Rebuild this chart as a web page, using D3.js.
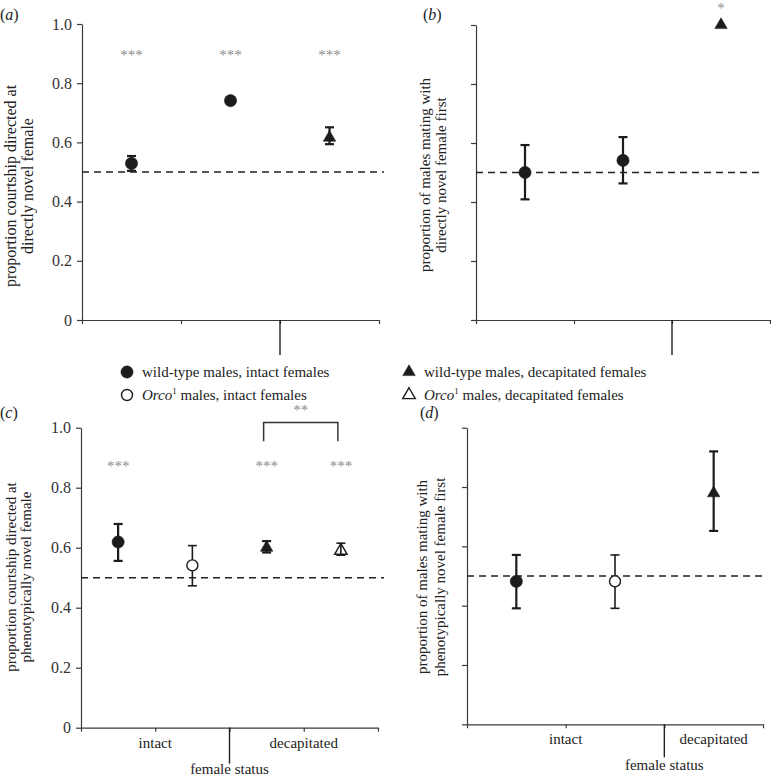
<!DOCTYPE html>
<html>
<head>
<meta charset="utf-8">
<script src="https://cdn.jsdelivr.net/npm/d3@7"></script>
<style>
  html, body { margin: 0; padding: 0; background: #fff; }
  svg { display: block; }
  svg text { font-family: "Liberation Serif", "Tinos", "Times New Roman", "DejaVu Serif", serif; }
</style>
</head>
<body>
<svg id="chart" width="771" height="778"></svg>
<script>
// ---------------- DATA ----------------
const yTickValues = [0, 0.2, 0.4, 0.6, 0.8, 1.0];
const yTickLabels = ["0", "0.2", "0.4", "0.6", "0.8", "1.0"];

// panel (a)
const treatmentsA = ["wt-intact-1", "wt-intact-2", "wt-decap"];
const meansA  = [0.529, 0.741, 0.616];
const lowA    = [0.504, 0.731, 0.594];
const highA   = [0.554, 0.752, 0.651];
const markersA = ["filledCircle", "filledCircle", "filledTriangle"];
const starsA  = ["***", "***", "***"];

// panel (b)
const treatmentsB = ["wt-intact-1", "wt-intact-2", "wt-decap"];
const meansB  = [0.50, 0.541, 1.0];
const lowB    = [0.409, 0.463, null];
const highB   = [0.593, 0.620, null];
const markersB = ["filledCircle", "filledCircle", "filledTriangle"];
const starsB  = ["", "", "*"];

// panel (c)
const treatmentsC = ["wt-intact", "orco-intact", "wt-decap", "orco-decap"];
const meansC  = [0.619, 0.541, 0.600, 0.590];
const lowC    = [0.556, 0.473, 0.584, 0.575];
const highC   = [0.679, 0.607, 0.622, 0.615];
const markersC = ["filledCircle", "openCircle", "filledTriangle", "openTriangle"];
const starsC  = ["***", "", "***", "***"];
const bracketC = { from: 2, to: 3, top: 1.017, bottom: 0.955, label: "**" };

// panel (d)
const treatmentsD = ["wt-intact", "orco-intact", "wt-decap"];
const meansD  = [0.482, 0.482, 0.779];
const lowD    = [0.391, 0.391, 0.652];
const highD   = [0.571, 0.571, 0.920];
const markersD = ["filledCircle", "openCircle", "filledTriangle"];

// x-axis group labels (c, d)
const groupLabels = ["intact", "decapitated"];
const xAxisTitle = "female status";

// legend
const legendMarkers = ["filledCircle", "openCircle", "filledTriangle", "openTriangle"];
const legendGenotype = ["wild-type", "Orco", "wild-type", "Orco"];
const legendRest = [" males, intact females", " males, intact females", " males, decapitated females", " males, decapitated females"];

// axis titles
const titleA = ["proportion courtship directed at", "directly novel female"];
const titleB = ["proportion of males mating with", "directly novel female first"];
const titleC = ["proportion courtship directed at", "phenotypically novel female"];
const titleD = ["proportion of  males mating with", "phenotypically novel female first"];

// ---------------- DRAWING ----------------
const INK = "#1c1c1c";
const AXIS = "#3a3a3a";
const STAR = "#8c8c8c";
const svg = d3.select("#chart");
svg.append("rect").attr("width", 771).attr("height", 778).attr("fill", "#fff");

function marker(g, type, x, y, inLegend) {
  const isTri = type.indexOf("Triangle") >= 0;
  const filled = type.indexOf("filled") === 0;
  const sym = d3.symbol().type(isTri ? d3.symbolTriangle : d3.symbolCircle)
                .size(isTri ? 68 : (filled ? 118 : 95));
  g.append("path")
    .attr("d", sym())
    .attr("transform", `translate(${x},${y})`)
    .attr("fill", filled ? INK : (isTri && !inLegend ? "none" : "#fff"))
    .attr("stroke", INK)
    .attr("stroke-width", filled ? 0.5 : 1.4);
}

function drawPanel(cfg) {
  const g = svg.append("g");
  const n = cfg.means.length;
  const y = d3.scaleLinear().domain([0, 1]).range(cfg.yRange);
  const xi = d3.scaleLinear().domain([0, n]).range(cfg.xRange);

  // y axis
  const yAxis = d3.axisLeft(y).tickValues(yTickValues).tickSize(5).tickSizeOuter(0).tickPadding(5)
    .tickFormat((d, i) => cfg.yLabels ? yTickLabels[i] : "");
  const ya = g.append("g").attr("transform", `translate(${cfg.xRange[0]},0)`).call(yAxis);
  ya.attr("font-family", null);
  ya.select(".domain").attr("stroke", AXIS).attr("stroke-width", 1.2);
  ya.selectAll(".tick line").attr("stroke", AXIS).attr("stroke-width", 1.2);
  ya.selectAll(".tick text").attr("font-size", 16).attr("fill", "#333");

  // x axis (ticks at category boundaries)
  const xAxis = d3.axisBottom(xi).tickValues(d3.range(n + 1)).tickSize(4).tickSizeOuter(0).tickFormat("");
  const xa = g.append("g").attr("transform", `translate(0,${cfg.yRange[0]})`).call(xAxis);
  xa.select(".domain").attr("stroke", AXIS).attr("stroke-width", 1.2);
  xa.selectAll(".tick line").attr("stroke", AXIS).attr("stroke-width", 1.2);
  // long separator tick
  g.append("line")
    .attr("x1", xi(cfg.sep)).attr("x2", xi(cfg.sep))
    .attr("y1", cfg.yRange[0]).attr("y2", cfg.yRange[0] + cfg.sepLen)
    .attr("stroke", "#222").attr("stroke-width", 1.4);

  // dashed 0.5 reference
  g.append("line")
    .attr("x1", cfg.xRange[0]).attr("x2", cfg.xRange[1] + cfg.dashExt)
    .attr("y1", y(0.5)).attr("y2", y(0.5))
    .attr("stroke", "#222").attr("stroke-width", 1.5).attr("stroke-dasharray", "7,5");

  // error bars + markers
  for (let i = 0; i < n; i++) {
    const cx = xi(i + 0.5);
    if (cfg.low[i] != null) {
      const open = cfg.markers[i].indexOf("open") === 0;
      const sw = open ? 1.6 : 2.2;
      g.append("line").attr("x1", cx).attr("x2", cx).attr("y1", y(cfg.low[i])).attr("y2", y(cfg.high[i]))
        .attr("stroke", INK).attr("stroke-width", sw);
      [cfg.low[i], cfg.high[i]].forEach(v => {
        g.append("line").attr("x1", cx - 4.5).attr("x2", cx + 4.5).attr("y1", y(v)).attr("y2", y(v))
          .attr("stroke", INK).attr("stroke-width", sw);
      });
    }
    marker(g, cfg.markers[i], cx, y(cfg.means[i]), false);
    if (cfg.stars && cfg.stars[i]) {
      g.append("text").attr("x", cx).attr("y", y(cfg.starY[i]))
        .attr("text-anchor", "middle").attr("font-size", 15)
        .attr("fill", STAR).text(cfg.stars[i]);
    }
  }

  // bracket
  if (cfg.bracket) {
    const b = cfg.bracket;
    const x1 = xi(b.from + 0.5) - 3, x2 = xi(b.to + 0.5) - 3;
    g.append("path")
      .attr("d", `M${x1},${y(b.bottom)}V${y(b.top)}H${x2}V${y(b.bottom)}`)
      .attr("fill", "none").attr("stroke", "#333").attr("stroke-width", 1.5);
    g.append("text").attr("x", (x1 + x2) / 2).attr("y", y(b.labelY))
      .attr("text-anchor", "middle").attr("font-size", 15)
      .attr("fill", STAR).text(b.label);
  }

  // group labels
  if (cfg.groups) {
    const centers = [xi(cfg.sep / 2), xi((cfg.sep + n) / 2)];
    groupLabels.forEach((lab, k) => {
      g.append("text").attr("x", centers[k]).attr("y", cfg.yRange[0] + 20)
        .attr("text-anchor", "middle").attr("font-size", 15)
        .attr("fill", "#222").text(lab);
    });
    g.append("text").attr("x", xi(cfg.sep)).attr("y", cfg.yRange[0] + 46)
      .attr("text-anchor", "middle").attr("font-size", 15)
      .attr("fill", "#222").text(xAxisTitle);
  }

  // y title
  cfg.title.forEach((line, k) => {
    g.append("text")
      .attr("transform", `translate(${cfg.titleX[k]},${cfg.titleY}) rotate(-90)`)
      .attr("text-anchor", "middle").attr("font-size", cfg.titleSize)
      .attr("fill", "#222").text(line);
  });

  // panel letter
  const pl = g.append("text").attr("x", cfg.letterPos[0]).attr("y", cfg.letterPos[1])
    .attr("font-size", 16).attr("fill", "#222");
  pl.append("tspan").text("(");
  pl.append("tspan").attr("font-style", "italic").text(cfg.letter);
  pl.append("tspan").text(")");
}

drawPanel({
  means: meansA, low: lowA, high: highA, markers: markersA, stars: starsA,
  starY: [0.88, 0.88, 0.88],
  yRange: [320, 24], xRange: [82, 379], sep: 2, sepLen: 35, dashExt: 5,
  yLabels: true, title: titleA, titleX: [16, 33], titleY: 186, titleSize: 16,
  letter: "a", letterPos: [0, 20]
});
drawPanel({
  means: meansB, low: lowB, high: highB, markers: markersB, stars: starsB,
  starY: [1.04, 1.04, 1.04],
  yRange: [320, 25], xRange: [476, 770], sep: 2, sepLen: 35, dashExt: -8,
  yLabels: false, title: titleB, titleX: [430, 446], titleY: 175, titleSize: 15,
  letter: "b", letterPos: [423, 20]
});
drawPanel({
  means: meansC, low: lowC, high: highC, markers: markersC, stars: starsC,
  starY: [0.857, 0.857, 0.857, 0.857],
  bracket: Object.assign({}, bracketC, { labelY: 1.044 }),
  yRange: [727.7, 427.7], xRange: [81, 378], sep: 2, sepLen: 36, dashExt: 6,
  yLabels: true, groups: true, title: titleC, titleX: [16, 31], titleY: 577, titleSize: 15,
  letter: "c", letterPos: [0, 418]
});
drawPanel({
  means: meansD, low: lowD, high: highD, markers: markersD,
  yRange: [724.3, 427.7], xRange: [467, 763], sep: 2, sepLen: 33, dashExt: 4,
  yLabels: false, groups: true, title: titleD, titleX: [427, 445], titleY: 577, titleSize: 15,
  letter: "d", letterPos: [420, 418]
});

// legend
const legendPos = [[127, 372], [127, 395], [409, 372], [409, 395]];
legendMarkers.forEach((m, i) => {
  const lg = svg.append("g");
  const [lx, ly] = legendPos[i];
  marker(lg, m, lx, ly, true);
  const t = lg.append("text").attr("x", lx + 15).attr("y", ly + 5)
    .attr("font-size", 15).attr("fill", "#222");
  if (legendGenotype[i] === "Orco") {
    t.append("tspan").attr("font-style", "italic").text("Orco");
    t.append("tspan").attr("font-size", 9).attr("dy", -6).text("1");
    t.append("tspan").attr("dy", 6).text(legendRest[i]);
  } else {
    t.append("tspan").text(legendGenotype[i] + legendRest[i]);
  }
});
</script>
</body>
</html>
